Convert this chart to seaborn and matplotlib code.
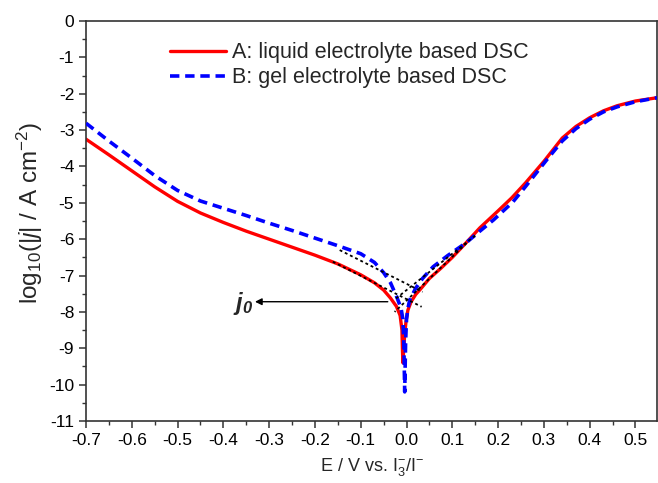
import matplotlib
matplotlib.use("Agg")
import matplotlib.pyplot as plt
import seaborn as sns
import pandas as pd
from matplotlib.ticker import MultipleLocator

# polarization curves (E in V, log10 |j|)
E_A = [-0.70, -0.65, -0.60, -0.55, -0.50, -0.45, -0.40, -0.35, -0.30, -0.25,
       -0.20, -0.15, -0.10, -0.07, -0.05, -0.035, -0.022, -0.014, -0.010, -0.009,
       -0.008, -0.006, -0.004, -0.001, 0.003, 0.010, 0.020, 0.030, 0.050, 0.075,
       0.100, 0.130, 0.160, 0.200, 0.230, 0.260, 0.300, 0.340, 0.370, 0.400,
       0.430, 0.460, 0.500, 0.547]
logj_A = [-3.25, -3.68, -4.12, -4.56, -4.96, -5.28, -5.54, -5.78, -6.00, -6.22,
          -6.44, -6.68, -6.98, -7.20, -7.40, -7.62, -7.85, -8.10, -8.50, -9.00,
          -9.40, -9.00, -8.60, -8.25, -7.95, -7.72, -7.52, -7.38, -7.08, -6.80,
          -6.50, -6.10, -5.69, -5.22, -4.86, -4.45, -3.86, -3.22, -2.90, -2.66,
          -2.47, -2.33, -2.20, -2.11]

E_B = [-0.70, -0.65, -0.60, -0.55, -0.50, -0.45, -0.40, -0.35, -0.30, -0.25,
       -0.20, -0.15, -0.10, -0.07, -0.05, -0.035, -0.021, -0.012, -0.008, -0.006,
       -0.005, -0.004, -0.003, -0.002, 0.000, 0.003, 0.007, 0.020, 0.035, 0.058,
       0.090, 0.130, 0.160, 0.190, 0.232, 0.260, 0.306, 0.340, 0.370, 0.400,
       0.430, 0.460, 0.500, 0.547]
logj_B = [-2.81, -3.30, -3.77, -4.25, -4.66, -4.95, -5.15, -5.35, -5.56, -5.76,
          -5.97, -6.18, -6.40, -6.64, -6.92, -7.20, -7.60, -7.90, -8.20, -8.80,
          -9.50, -10.20, -9.50, -8.80, -8.20, -7.90, -7.67, -7.35, -7.08, -6.76,
          -6.45, -6.10, -5.78, -5.47, -4.98, -4.55, -3.82, -3.30, -2.96, -2.70,
          -2.50, -2.36, -2.22, -2.11]

# Tafel extrapolation segments (start, end)
tafel_E = [(-0.161, 0.033), (0.131, -0.026), (-0.146, 0.035), (0.150, -0.025)]
tafel_logj = [(-6.62, -7.86), (-6.11, -8.00), (-6.30, -7.45), (-5.90, -7.65)]

j0_level = -7.72
j0_from, j0_to = -0.041, -0.331

label_A = "A: liquid electrolyte based DSC"
label_B = "B: gel electrolyte based DSC"

sns.set_theme(style="ticks")
plt.rcParams['font.family'] = ['Liberation Sans', 'DejaVu Sans']
plt.rcParams['axes.unicode_minus'] = False
plt.rcParams['mathtext.fontset'] = 'custom'
plt.rcParams['mathtext.rm'] = 'Liberation Sans'
plt.rcParams['mathtext.it'] = 'Liberation Sans:italic'
plt.rcParams['mathtext.bf'] = 'Liberation Sans:italic:bold'

fig = plt.figure(figsize=(6.58, 4.83), dpi=100)
ax = fig.add_axes([0.1307, 0.1284, 0.8678, 0.8281])

dfA = pd.DataFrame({'E': E_A, 'logj': logj_A})
dfB = pd.DataFrame({'E': E_B, 'logj': logj_B})

for te, tj in zip(tafel_E, tafel_logj):
    ax.plot(te, tj, color='black', lw=1.3, ls=(0, (1.6, 1.6)), zorder=4)

sns.lineplot(data=dfA, x='E', y='logj', sort=False, estimator=None, ax=ax,
             color='#ff0000', lw=2.4, label=label_A, zorder=2)
sns.lineplot(data=dfB, x='E', y='logj', sort=False, estimator=None, ax=ax,
             color='#0000ff', lw=2.6, label=label_B, zorder=3)
ax.lines[-1].set_dashes((2.6, 1.6))

ax.annotate('', xy=(j0_to, j0_level), xytext=(j0_from, j0_level),
            arrowprops=dict(arrowstyle='-|>', color='black', lw=1.0,
                            mutation_scale=10, shrinkA=0, shrinkB=0))
ax.text(j0_to - 0.004, j0_level - 0.05, r'$\mathbf{j_0}$', fontsize=17,
        ha='right', va='center')

ax.set_xlim(-0.7, 0.547)
ax.set_ylim(-11, 0)
ax.xaxis.set_major_locator(MultipleLocator(0.1))
ax.xaxis.set_minor_locator(MultipleLocator(0.05))
ax.yaxis.set_major_locator(MultipleLocator(1))
ax.yaxis.set_minor_locator(MultipleLocator(0.5))
ax.set_xticks([round(-0.7 + 0.1 * i, 1) for i in range(13)])
ax.set_xticklabels([f"{-0.7 + 0.1 * i:.1f}" if abs(-0.7 + 0.1 * i) > 1e-9 else "0.0"
                    for i in range(13)])
ax.tick_params(which='major', direction='out', length=5, width=1.1,
               labelsize=12.5, colors='#333333', labelcolor='black')
ax.tick_params(which='minor', direction='out', length=3, width=1.0, colors='#333333')
for s in ax.spines.values():
    s.set_color('#333333')
    s.set_linewidth(1.2)

ax.set_xlabel(r'E / V vs. I$_3^{-}$/I$^{-}$', fontsize=13, labelpad=6)
ax.set_ylabel(r'log$_{10}$(|$j$| / A cm$^{-2}$)', fontsize=17.5)
ax.yaxis.set_label_coords(-0.072, 0.52)

ax.legend(loc='upper left', bbox_to_anchor=(0.12, 0.985), frameon=False,
          fontsize=15.5, handlelength=2.6, handletextpad=0.3, labelspacing=0.2,
          borderaxespad=0.3)

fig.savefig('out.png', dpi=100)
